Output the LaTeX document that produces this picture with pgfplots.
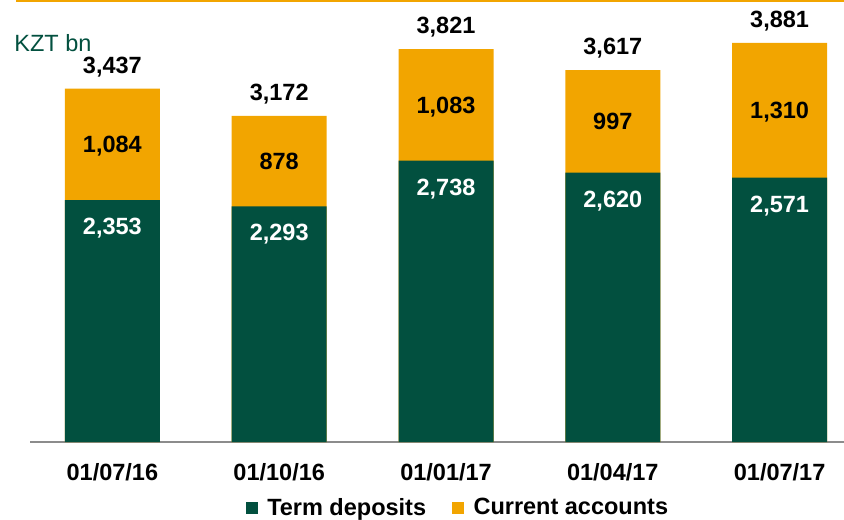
\documentclass[border=0pt]{standalone}
\usepackage{fontspec}
\setmainfont{Liberation Sans}
\usepackage{pgfplots}
\pgfplotsset{compat=1.18}
\usepackage{pgfplotstable}

\definecolor{termgreen}{HTML}{02503F}
\definecolor{curorange}{HTML}{F2A500}
\definecolor{axisgray}{HTML}{8C8C8C}
\newcommand{\lblfont}{\fontsize{11.75}{14}\selectfont\bfseries}

% KZT bn
\pgfplotstableread{
x term current total
0 2353 1084 3437
1 2293 878  3172
2 2738 1083 3821
3 2620 997  3617
4 2571 1310 3881
}\deposits

\begin{document}
\begin{tikzpicture}
\begin{axis}[
    name=ax,
    width=407pt, height=220.375pt, scale only axis,
    xmin=-0.494, xmax=4.386, ymin=0, ymax=4287,
    axis x line*=bottom, axis y line=none,
    x axis line style={draw=axisgray, line width=1pt, -},
    xtick={0,1,2,3,4},
    xticklabels={01/07/16,01/10/16,01/01/17,01/04/17,01/07/17},
    major tick length=0pt,
    xticklabel style={font=\lblfont, anchor=base, yshift=-19pt},
    ytick=\empty,
    clip=false,
    /pgf/number format/assume math mode=true,
    /pgf/number format/1000 sep={,},
    legend columns=2,
    legend style={draw=none, fill=none, at={(0.527,-0.15)}, anchor=center,
        font=\lblfont, /tikz/every even column/.append style={column sep=11pt}},
    legend image code/.code={\fill[#1,draw=none] (0pt,-3pt) rectangle (6pt,3pt); \path (8.5pt,0pt);},
]
% full-height orange bars (totals), green drawn over them
\addplot[ybar, bar width=47.5pt, bar shift=0pt, fill=curorange, draw=none, forget plot,
    nodes near coords,
    nodes near coords style={font=\lblfont, text=black, anchor=base, yshift=7.75pt}]
    table[x=x, y=total] {\deposits};
\addplot[ybar, bar width=47.5pt, bar shift=0pt, fill=termgreen, draw=none, forget plot,
    nodes near coords,
    nodes near coords style={font=\lblfont, text=white, anchor=base, yshift=-17.25pt}]
    table[x=x, y=term] {\deposits};
% current accounts labels, centred in the orange part
\addplot[draw=none, mark=none, forget plot, point meta=explicit,
    nodes near coords,
    nodes near coords style={font=\lblfont, text=black, anchor=base, yshift=-4.25pt}]
    table[x=x, y expr=\thisrow{term}+0.5*\thisrow{current}, meta=current] {\deposits};

\addlegendimage{fill=termgreen}
\addlegendentry{Term deposits}
\addlegendimage{fill=curorange}
\addlegendentry{Current accounts}

\draw[curorange, line width=1.25pt] (rel axis cs:-0.0172,1) -- (rel axis cs:1,1);
\node[anchor=base west, inner sep=0pt, text=termgreen,
    font=\fontsize{11.75}{14}\selectfont, xshift=-8pt, yshift=-25.375pt]
    at (rel axis cs:0,1) {KZT bn};
\end{axis}
\pgfresetboundingbox
\path ([shift={(-15pt,-38.5pt)}]ax.south west) rectangle ([yshift=0.625pt]ax.north east);
\end{tikzpicture}
\end{document}
